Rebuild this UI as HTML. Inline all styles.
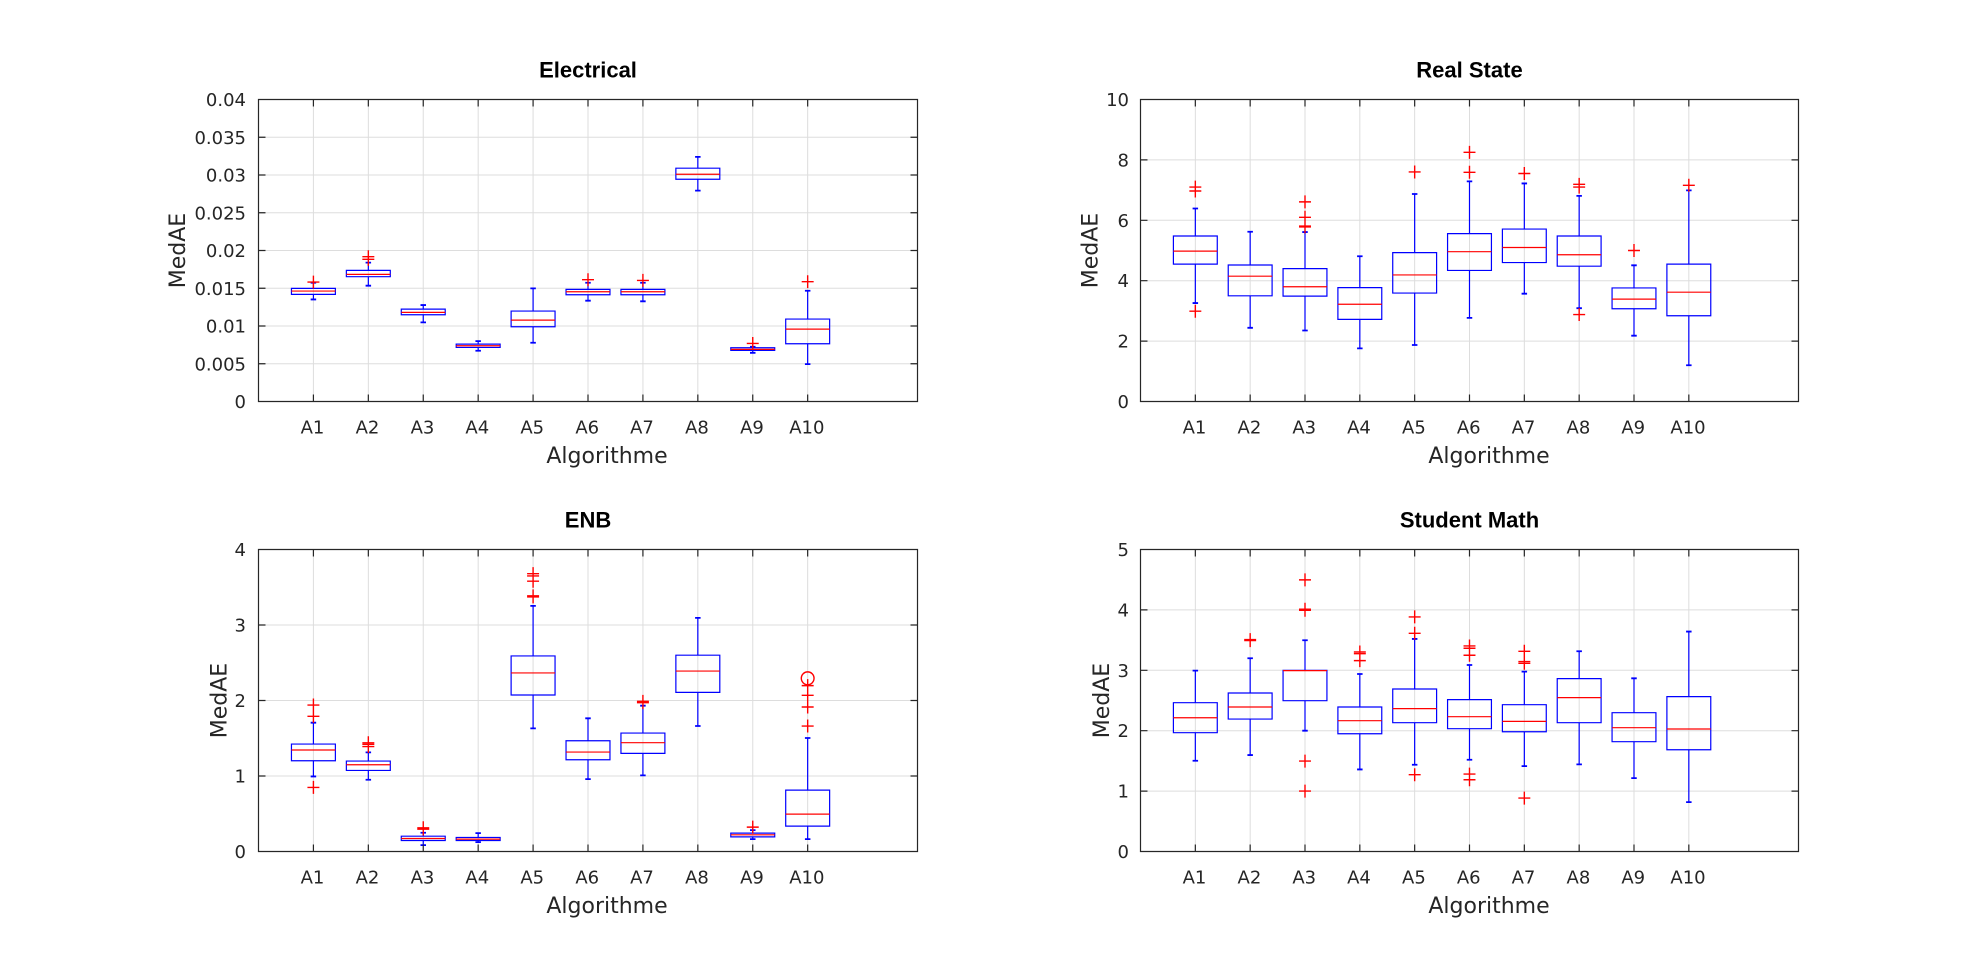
<!DOCTYPE html>
<html><head><meta charset="utf-8"><style>
html,body{margin:0;padding:0;background:#fff;}
svg{display:block;}
.t{font-family:"DejaVu Sans","Liberation Sans",sans-serif;font-size:18px;fill:#262626;}
.lab{font-family:"DejaVu Sans","Liberation Sans",sans-serif;font-size:22px;fill:#262626;}
.ttl{font-family:"Liberation Sans",Arial,sans-serif;font-size:22px;font-weight:bold;fill:#000;}
path,ellipse{vector-effect:non-scaling-stroke;fill:none;}
.g{stroke:#dddddd;stroke-width:1;}
.fr{stroke:#262626;stroke-width:1.2;}
.b{stroke:#0000ff;stroke-width:1.2;}
.c{stroke:#0000ff;stroke-width:1.8;}
.m{stroke:#ff0000;stroke-width:1.2;}
.o{stroke:#ff0000;stroke-width:1.4;}
</style></head><body>
<svg width="1987" height="956" viewBox="0 0 1987 956" xmlns="http://www.w3.org/2000/svg">
<rect width="1987" height="956" fill="#fff"/>

<!-- ===== Plot 1: Electrical ===== -->
<g transform="translate(258.5,401.5) scale(54.917,-7550)">
<path class="g" d="M1 0V.04M2 0V.04M3 0V.04M4 0V.04M5 0V.04M6 0V.04M7 0V.04M8 0V.04M9 0V.04M10 0V.04M0 .005H12M0 .01H12M0 .015H12M0 .02H12M0 .025H12M0 .03H12M0 .035H12"/>
<path class="b" d="M.6 .01419H1.4V.01498H.6ZM1.6 .01653H2.4V.01737H1.6ZM2.6 .01149H3.4V.01224H2.6ZM3.6 .00716H4.4V.0076H3.6ZM4.6 .0099H5.4V.01198H4.6ZM5.6 .01414H6.4V.01485H5.6ZM6.6 .01414H7.4V.01485H6.6ZM7.6 .02944H8.4V.0309H7.6ZM8.6 .00676H9.4V.00712H8.6ZM9.6 .00765H10.4V.01092H9.6Z"/>
<path class="b" d="M1 .01498V.01573M1 .01419V.01352M2 .01737V.01839M2 .01653V.01534M3 .01224V.01277M3 .01149V.01048M4 .0076V.008M4 .00716V.00672M5 .01198V.01498M5 .0099V.00778M6 .01485V.01573M6 .01414V.01335M7 .01485V.01573M7 .01414V.01327M8 .0309V.0324M8 .02944V.02793M9 .00712V.00725M9 .00676V.00645M10 .01092V.01467M10 .00765V.00495"/>
<path class="c" d="M.95 .01573h.1M.95 .01352h.1M1.95 .01839h.1M1.95 .01534h.1M2.95 .01277h.1M2.95 .01048h.1M3.95 .008h.1M3.95 .00672h.1M4.95 .01498h.1M4.95 .00778h.1M5.95 .01573h.1M5.95 .01335h.1M6.95 .01573h.1M6.95 .01327h.1M7.95 .0324h.1M7.95 .02793h.1M8.95 .00725h.1M8.95 .00645h.1M9.95 .01467h.1M9.95 .00495h.1"/>
<path class="m" d="M.6 .01463h.8M1.6 .01684h.8M2.6 .0118h.8M3.6 .00738h.8M4.6 .01078h.8M5.6 .01454h.8M6.6 .01454h.8M7.6 .0301h.8M8.6 .0069h.8M9.6 .00959h.8"/>
<path class="o" d="M.891 .01582h.218m-.109-.00086v.00172M1.891 .01883h.218m-.109-.00086v.00172M1.891 .01918h.218m-.109-.00086v.00172M5.891 .01613h.218m-.109-.00086v.00172M6.891 .01604h.218m-.109-.00086v.00172M8.891 .00769h.218m-.109-.00086v.00172M9.891 .01587h.218m-.109-.00086v.00172"/>
<path class="fr" d="M0 0H12V.04H0ZM1 0v.000927M2 0v.000927M3 0v.000927M4 0v.000927M5 0v.000927M6 0v.000927M7 0v.000927M8 0v.000927M9 0v.000927M10 0v.000927M1 .04v-.000927M2 .04v-.000927M3 .04v-.000927M4 .04v-.000927M5 .04v-.000927M6 .04v-.000927M7 .04v-.000927M8 .04v-.000927M9 .04v-.000927M10 .04v-.000927M0 .005h.1275M0 .01h.1275M0 .015h.1275M0 .02h.1275M0 .025h.1275M0 .03h.1275M0 .035h.1275M12 .005h-.1275M12 .01h-.1275M12 .015h-.1275M12 .02h-.1275M12 .025h-.1275M12 .03h-.1275M12 .035h-.1275"/>
</g>
<g class="t" text-anchor="end">
<text x="246" y="408">0</text><text x="246" y="370.25">0.005</text><text x="246" y="332.5">0.01</text><text x="246" y="294.75">0.015</text><text x="246" y="257">0.02</text><text x="246" y="219.25">0.025</text><text x="246" y="181.5">0.03</text><text x="246" y="143.75">0.035</text><text x="246" y="106">0.04</text>
</g>
<g class="t" text-anchor="middle">
<text x="312.5" y="433.5">A1</text><text x="367.5" y="433.5">A2</text><text x="422.5" y="433.5">A3</text><text x="477.3" y="433.5">A4</text><text x="532.2" y="433.5">A5</text><text x="587.2" y="433.5">A6</text><text x="642" y="433.5">A7</text><text x="697" y="433.5">A8</text><text x="752" y="433.5">A9</text><text x="806.8" y="433.5">A10</text>
</g>
<text class="ttl" x="588" y="77.5" text-anchor="middle">Electrical</text>
<text class="lab" x="607" y="463" text-anchor="middle">Algorithme</text>
<text class="lab" transform="translate(185,250.5) rotate(-90)" text-anchor="middle">MedAE</text>

<!-- ===== Plot 2: Real State ===== -->
<g transform="translate(1140.5,401.5) scale(54.833,-30.2)">
<path class="g" d="M1 0V10M2 0V10M3 0V10M4 0V10M5 0V10M6 0V10M7 0V10M8 0V10M9 0V10M10 0V10M0 2H12M0 4H12M0 6H12M0 8H12"/>
<path class="b" d="M.6 4.55H1.4V5.48H.6ZM1.6 3.5H2.4V4.52H1.6ZM2.6 3.49H3.4V4.4H2.6ZM3.6 2.72H4.4V3.77H3.6ZM4.6 3.59H5.4V4.93H4.6ZM5.6 4.34H6.4V5.56H5.6ZM6.6 4.6H7.4V5.71H6.6ZM7.6 4.48H8.4V5.48H7.6ZM8.6 3.07H9.4V3.76H8.6ZM9.6 2.84H10.4V4.55H9.6Z"/>
<path class="b" d="M1 5.48V6.39M1 4.55V3.26M2 4.52V5.62M2 3.5V2.44M3 4.4V5.61M3 3.49V2.35M4 3.77V4.81M4 2.72V1.76M5 4.93V6.87M5 3.59V1.87M6 5.56V7.29M6 4.34V2.77M7 5.71V7.22M7 4.6V3.57M8 5.48V6.81M8 4.48V3.09M9 3.76V4.51M9 3.07V2.18M10 4.55V6.99M10 2.84V1.2"/>
<path class="c" d="M.95 6.39h.1M.95 3.26h.1M1.95 5.62h.1M1.95 2.44h.1M2.95 5.61h.1M2.95 2.35h.1M3.95 4.81h.1M3.95 1.76h.1M4.95 6.87h.1M4.95 1.87h.1M5.95 7.29h.1M5.95 2.77h.1M6.95 7.22h.1M6.95 3.57h.1M7.95 6.81h.1M7.95 3.09h.1M8.95 4.51h.1M8.95 2.18h.1M9.95 6.99h.1M9.95 1.2h.1"/>
<path class="m" d="M.6 4.98h.8M1.6 4.15h.8M2.6 3.8h.8M3.6 3.22h.8M4.6 4.19h.8M5.6 4.96h.8M6.6 5.1h.8M7.6 4.86h.8M8.6 3.39h.8M9.6 3.62h.8"/>
<path class="o" d="M.891 7.1h.218m-.109-.215v.43M.891 6.97h.218m-.109-.215v.43M.891 2.99h.218m-.109-.215v.43M2.891 6.61h.218m-.109-.215v.43M2.891 6.1h.218m-.109-.215v.43M2.891 5.81h.218m-.109-.215v.43M2.891 5.78h.218m-.109-.215v.43M4.891 7.6h.218m-.109-.215v.43M5.891 8.25h.218m-.109-.215v.43M5.891 7.59h.218m-.109-.215v.43M6.891 7.55h.218m-.109-.215v.43M7.891 7.19h.218m-.109-.215v.43M7.891 7.1h.218m-.109-.215v.43M7.891 2.88h.218m-.109-.215v.43M8.891 5h.218m-.109-.215v.43M9.891 7.16h.218m-.109-.215v.43"/>
<path class="fr" d="M0 0H12V10H0ZM1 0v.232M2 0v.232M3 0v.232M4 0v.232M5 0v.232M6 0v.232M7 0v.232M8 0v.232M9 0v.232M10 0v.232M1 10v-.232M2 10v-.232M3 10v-.232M4 10v-.232M5 10v-.232M6 10v-.232M7 10v-.232M8 10v-.232M9 10v-.232M10 10v-.232M0 2h.1275M0 4h.1275M0 6h.1275M0 8h.1275M12 2h-.1275M12 4h-.1275M12 6h-.1275M12 8h-.1275"/>
</g>
<g class="t" text-anchor="end">
<text x="1129" y="408">0</text><text x="1129" y="347.6">2</text><text x="1129" y="287.2">4</text><text x="1129" y="226.8">6</text><text x="1129" y="166.4">8</text><text x="1129" y="106">10</text>
</g>
<g class="t" text-anchor="middle">
<text x="1194.5" y="433.5">A1</text><text x="1249.4" y="433.5">A2</text><text x="1304.2" y="433.5">A3</text><text x="1359" y="433.5">A4</text><text x="1413.9" y="433.5">A5</text><text x="1468.7" y="433.5">A6</text><text x="1523.5" y="433.5">A7</text><text x="1578.4" y="433.5">A8</text><text x="1633.2" y="433.5">A9</text><text x="1688" y="433.5">A10</text>
</g>
<text class="ttl" x="1469.5" y="77.5" text-anchor="middle">Real State</text>
<text class="lab" x="1489" y="463" text-anchor="middle">Algorithme</text>
<text class="lab" transform="translate(1097.5,250.5) rotate(-90)" text-anchor="middle">MedAE</text>

<!-- ===== Plot 3: ENB ===== -->
<g transform="translate(258.5,851.5) scale(54.917,-75.5)">
<path class="g" d="M1 0V4M2 0V4M3 0V4M4 0V4M5 0V4M6 0V4M7 0V4M8 0V4M9 0V4M10 0V4M0 1H12M0 2H12M0 3H12"/>
<path class="b" d="M.6 1.202H1.4V1.423H.6ZM1.6 1.074H2.4V1.198H1.6ZM2.6 .146H3.4V.203H2.6ZM3.6 .146H4.4V.186H3.6ZM4.6 2.073H5.4V2.59H4.6ZM5.6 1.215H6.4V1.467H5.6ZM6.6 1.3H7.4V1.569H6.6ZM7.6 2.108H8.4V2.6H7.6ZM8.6 .194H9.4V.243H8.6ZM9.6 .336H10.4V.813H9.6Z"/>
<path class="b" d="M1 1.423V1.706M1 1.202V.994M2 1.198V1.313M2 1.074V.95M3 .203V.248M3 .146V.084M4 .186V.243M4 .146V.124M5 2.59V3.253M5 2.073V1.631M6 1.467V1.764M6 1.215V.959M7 1.569V1.931M7 1.3V1.008M8 2.6V3.094M8 2.108V1.662M9 .243V.283M9 .194V.164M10 .813V1.503M10 .336V.164"/>
<path class="c" d="M.95 1.706h.1M.95 .994h.1M1.95 1.313h.1M1.95 .95h.1M2.95 .248h.1M2.95 .084h.1M3.95 .243h.1M3.95 .124h.1M4.95 3.253h.1M4.95 1.631h.1M5.95 1.764h.1M5.95 .959h.1M6.95 1.931h.1M6.95 1.008h.1M7.95 3.094h.1M7.95 1.662h.1M8.95 .283h.1M8.95 .164h.1M9.95 1.503h.1M9.95 .164h.1"/>
<path class="m" d="M.6 1.344h.8M1.6 1.149h.8M2.6 .172h.8M3.6 .164h.8M4.6 2.365h.8M5.6 1.317h.8M6.6 1.441h.8M7.6 2.39h.8M8.6 .221h.8M9.6 .495h.8"/>
<path class="o" d="M.891 1.94h.218m-.109-.086v.172M.891 1.79h.218m-.109-.086v.172M.891 .849h.218m-.109-.086v.172M1.891 1.44h.218m-.109-.086v.172M1.891 1.42h.218m-.109-.086v.172M1.891 1.39h.218m-.109-.086v.172M2.891 .314h.218m-.109-.086v.172M2.891 .296h.218m-.109-.086v.172M4.891 3.68h.218m-.109-.086v.172M4.891 3.65h.218m-.109-.086v.172M4.891 3.58h.218m-.109-.086v.172M4.891 3.386h.218m-.109-.086v.172M4.891 3.372h.218m-.109-.086v.172M6.891 1.989h.218m-.109-.086v.172M6.891 1.971h.218m-.109-.086v.172M8.891 .323h.218m-.109-.086v.172M9.891 1.662h.218m-.109-.086v.172M9.891 1.914h.218m-.109-.086v.172M9.891 2.069h.218m-.109-.086v.172M9.891 2.197h.218m-.109-.086v.172"/>
<ellipse class="o" cx="10" cy="2.294" rx="0.116" ry="0.085"/>
<path class="fr" d="M0 0H12V4H0ZM1 0v.0927M2 0v.0927M3 0v.0927M4 0v.0927M5 0v.0927M6 0v.0927M7 0v.0927M8 0v.0927M9 0v.0927M10 0v.0927M1 4v-.0927M2 4v-.0927M3 4v-.0927M4 4v-.0927M5 4v-.0927M6 4v-.0927M7 4v-.0927M8 4v-.0927M9 4v-.0927M10 4v-.0927M0 1h.1275M0 2h.1275M0 3h.1275M12 1h-.1275M12 2h-.1275M12 3h-.1275"/>
</g>
<g class="t" text-anchor="end">
<text x="246" y="858">0</text><text x="246" y="782.5">1</text><text x="246" y="707">2</text><text x="246" y="631.5">3</text><text x="246" y="556">4</text>
</g>
<g class="t" text-anchor="middle">
<text x="312.5" y="883.5">A1</text><text x="367.5" y="883.5">A2</text><text x="422.5" y="883.5">A3</text><text x="477.3" y="883.5">A4</text><text x="532.2" y="883.5">A5</text><text x="587.2" y="883.5">A6</text><text x="642" y="883.5">A7</text><text x="697" y="883.5">A8</text><text x="752" y="883.5">A9</text><text x="806.8" y="883.5">A10</text>
</g>
<text class="ttl" x="588" y="527.5" text-anchor="middle">ENB</text>
<text class="lab" x="607" y="913" text-anchor="middle">Algorithme</text>
<text class="lab" transform="translate(226.5,700.5) rotate(-90)" text-anchor="middle">MedAE</text>

<!-- ===== Plot 4: Student Math ===== -->
<g transform="translate(1140.5,851.5) scale(54.833,-60.4)">
<path class="g" d="M1 0V5M2 0V5M3 0V5M4 0V5M5 0V5M6 0V5M7 0V5M8 0V5M9 0V5M10 0V5M0 1H12M0 2H12M0 3H12M0 4H12"/>
<path class="b" d="M.6 1.967H1.4V2.464H.6ZM1.6 2.193H2.4V2.624H1.6ZM2.6 2.497H3.4V3H2.6ZM3.6 1.95H4.4V2.392H3.6ZM4.6 2.133H5.4V2.69H4.6ZM5.6 2.033H6.4V2.514H5.6ZM6.6 1.983H7.4V2.431H6.6ZM7.6 2.133H8.4V2.862H7.6ZM8.6 1.818H9.4V2.298H8.6ZM9.6 1.685H10.4V2.564H9.6Z"/>
<path class="b" d="M1 2.464V2.994M1 1.967V1.503M2 2.624V3.199M2 2.193V1.597M3 3V3.497M3 2.497V2M4 2.392V2.939M4 1.95V1.359M5 2.69V3.519M5 2.133V1.436M6 2.514V3.088M6 2.033V1.519M7 2.431V2.978M7 1.983V1.414M8 2.862V3.315M8 2.133V1.442M9 2.298V2.867M9 1.818V1.215M10 2.564V3.641M10 1.685V.818"/>
<path class="c" d="M.95 2.994h.1M.95 1.503h.1M1.95 3.199h.1M1.95 1.597h.1M2.95 3.497h.1M2.95 2h.1M3.95 2.939h.1M3.95 1.359h.1M4.95 3.519h.1M4.95 1.436h.1M5.95 3.088h.1M5.95 1.519h.1M6.95 2.978h.1M6.95 1.414h.1M7.95 3.315h.1M7.95 1.442h.1M8.95 2.867h.1M8.95 1.215h.1M9.95 3.641h.1M9.95 .818h.1"/>
<path class="m" d="M.6 2.215h.8M1.6 2.392h.8M2.6 2.994h.8M3.6 2.166h.8M4.6 2.365h.8M5.6 2.232h.8M6.6 2.155h.8M7.6 2.547h.8M8.6 2.05h.8M9.6 2.028h.8"/>
<path class="o" d="M1.891 3.508h.218m-.109-.1076v.215M1.891 3.492h.218m-.109-.1076v.215M2.891 4.497h.218m-.109-.1076v.215M2.891 4.011h.218m-.109-.1076v.215M2.891 3.994h.218m-.109-.1076v.215M2.891 1.497h.218m-.109-.1076v.215M2.891 1h.218m-.109-.1076v.215M3.891 3.304h.218m-.109-.1076v.215M3.891 3.276h.218m-.109-.1076v.215M3.891 3.16h.218m-.109-.1076v.215M4.891 3.884h.218m-.109-.1076v.215M4.891 3.613h.218m-.109-.1076v.215M4.891 1.271h.218m-.109-.1076v.215M5.891 3.403h.218m-.109-.1076v.215M5.891 3.365h.218m-.109-.1076v.215M5.891 3.249h.218m-.109-.1076v.215M5.891 1.282h.218m-.109-.1076v.215M5.891 1.188h.218m-.109-.1076v.215M6.891 3.315h.218m-.109-.1076v.215M6.891 3.144h.218m-.109-.1076v.215M6.891 3.116h.218m-.109-.1076v.215M6.891 .884h.218m-.109-.1076v.215"/>
<path class="fr" d="M0 0H12V5H0ZM1 0v.1159M2 0v.1159M3 0v.1159M4 0v.1159M5 0v.1159M6 0v.1159M7 0v.1159M8 0v.1159M9 0v.1159M10 0v.1159M1 5v-.1159M2 5v-.1159M3 5v-.1159M4 5v-.1159M5 5v-.1159M6 5v-.1159M7 5v-.1159M8 5v-.1159M9 5v-.1159M10 5v-.1159M0 1h.1275M0 2h.1275M0 3h.1275M0 4h.1275M12 1h-.1275M12 2h-.1275M12 3h-.1275M12 4h-.1275"/>
</g>
<g class="t" text-anchor="end">
<text x="1129" y="858">0</text><text x="1129" y="797.6">1</text><text x="1129" y="737.2">2</text><text x="1129" y="676.8">3</text><text x="1129" y="616.4">4</text><text x="1129" y="556">5</text>
</g>
<g class="t" text-anchor="middle">
<text x="1194.5" y="883.5">A1</text><text x="1249.4" y="883.5">A2</text><text x="1304.2" y="883.5">A3</text><text x="1359" y="883.5">A4</text><text x="1413.9" y="883.5">A5</text><text x="1468.7" y="883.5">A6</text><text x="1523.5" y="883.5">A7</text><text x="1578.4" y="883.5">A8</text><text x="1633.2" y="883.5">A9</text><text x="1688" y="883.5">A10</text>
</g>
<text class="ttl" x="1469.5" y="527.5" text-anchor="middle">Student Math</text>
<text class="lab" x="1489" y="913" text-anchor="middle">Algorithme</text>
<text class="lab" transform="translate(1109,700.5) rotate(-90)" text-anchor="middle">MedAE</text>
</svg>
</body></html>
